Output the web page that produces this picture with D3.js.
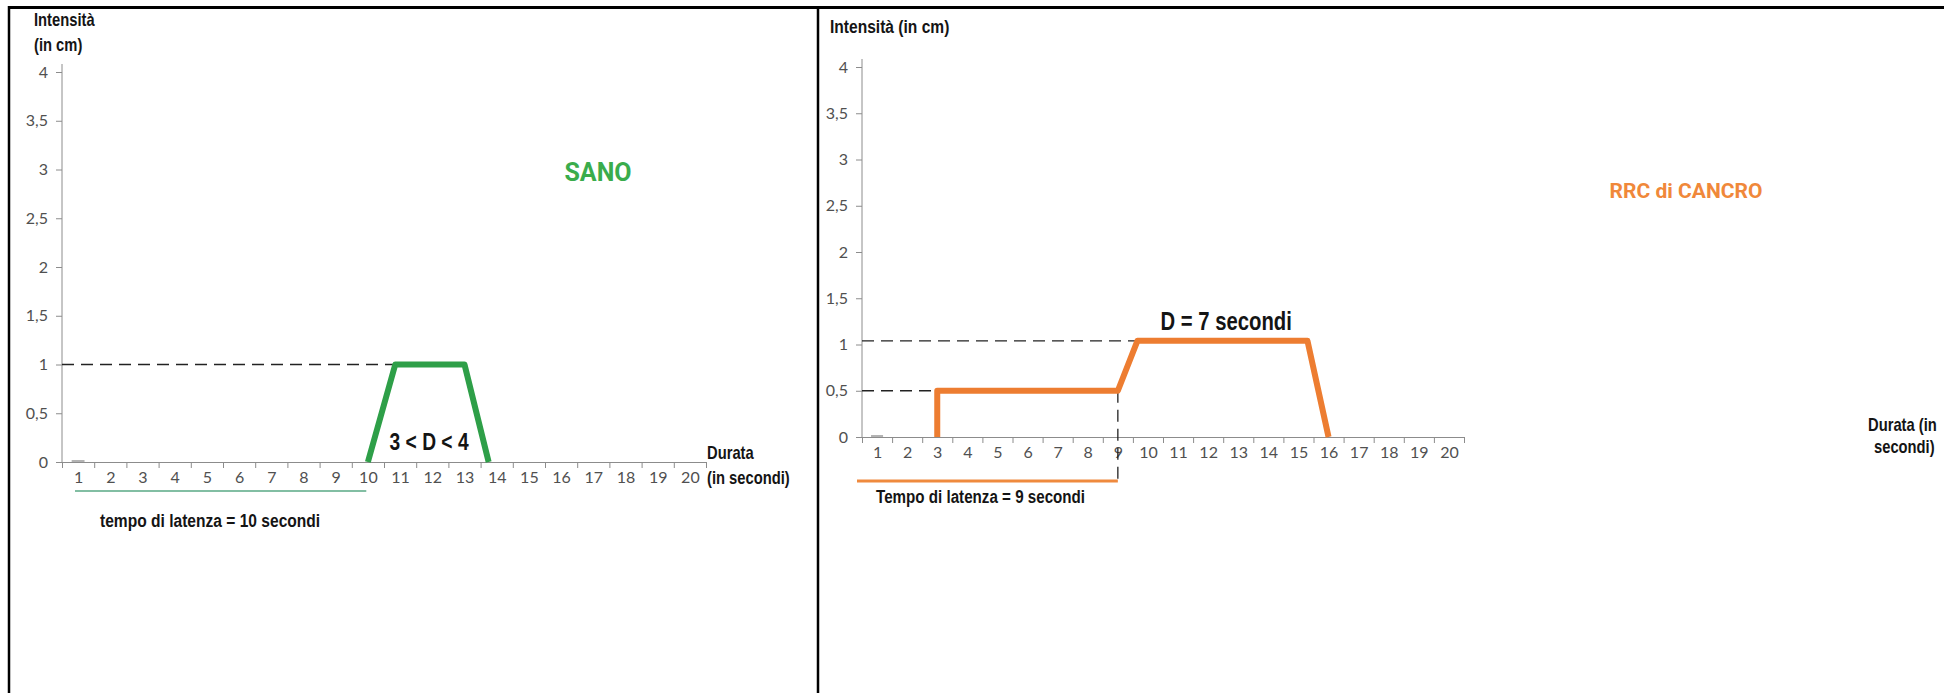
<!DOCTYPE html>
<html>
<head>
<meta charset="utf-8">
<script src="https://cdn.jsdelivr.net/npm/d3@7"></script>
<style>
  body { margin: 0; background: #fff; }
  .tick text { font-family: Lato, "Open Sans", sans-serif; font-size: 16px; fill: #505050; }
  .axis path, .axis line { stroke: #8c8c8c; }
  .lbl { font-family: "Liberation Sans", Arial, sans-serif; font-weight: bold; fill: #141414; }
</style>
</head>
<body>
<script>
'use strict';

// data
var xTicks = [1, 2, 3, 4, 5, 6, 7, 8, 9, 10, 11, 12, 13, 14, 15, 16, 17, 18, 19, 20];
var yTicks = [0, 0.5, 1, 1.5, 2, 2.5, 3, 3.5, 4];

// SANO: latency 10 s, 3 < D < 4
var sanoX = [10, 10.85, 13, 13.75];
var sanoY = [0, 1, 1, 0];

// RRC di CANCRO: latency 9 s, D = 7 s
var cancroX = [3, 3, 9, 9.65, 15.3, 16];
var cancroY = [0, 0.5, 0.5, 1.04, 1.04, 0];

var W = 1944, H = 693;

var svg = d3.select("body").append("svg")
  .attr("width", W)
  .attr("height", H);

// frame
svg.append("line").attr("x1", 8).attr("x2", W).attr("y1", 7.5).attr("y2", 7.5)
  .attr("stroke", "#000").attr("stroke-width", 3);
svg.append("line").attr("x1", 9).attr("x2", 9).attr("y1", 6).attr("y2", H)
  .attr("stroke", "#000").attr("stroke-width", 2.5);
svg.append("line").attr("x1", 818).attr("x2", 818).attr("y1", 6).attr("y2", H)
  .attr("stroke", "#000").attr("stroke-width", 2.5);

var fmt = function (d) { return String(d).replace(".", ","); };

// bold label, squeezed horizontally like the original picture
function label(g, txt, x, y, size, sx, anchor) {
  return g.append("text").attr("class", "lbl")
    .attr("transform", "translate(" + x + "," + y + ") scale(" + sx + ",1)")
    .attr("text-anchor", anchor || "start")
    .style("font-size", size + "px")
    .text(txt);
}

function panel(o) {
  var x = d3.scaleLinear().domain([0.5, 20.5]).range([o.x0, o.x0 + 20 * o.unitX]);
  var y = d3.scaleLinear().domain([0, 4]).range([o.y0, o.y0 - 4 * o.unitY]);
  var g = svg.append("g");

  // y axis
  var ya = g.append("g").attr("class", "axis")
    .attr("transform", "translate(" + o.x0 + ",0)")
    .call(d3.axisLeft(y).tickValues(yTicks).tickFormat(fmt).tickSize(6).tickPadding(8));
  ya.select(".domain").remove();
  g.append("line").attr("class", "axis")
    .attr("x1", o.x0).attr("x2", o.x0)
    .attr("y1", y(4) - 8).attr("y2", y(0))
    .attr("stroke", "#8c8c8c");

  // x axis: tick marks at category edges, labels at centres
  var edges = xTicks.map(function (d) { return d - 0.5; }).concat([20.5]);
  g.append("g").attr("class", "axis")
    .attr("transform", "translate(0," + o.y0 + ")")
    .call(d3.axisBottom(x).tickValues(edges).tickFormat("").tickSize(6).tickSizeOuter(0));
  g.append("g").attr("class", "axis")
    .attr("transform", "translate(0," + o.y0 + ")")
    .call(d3.axisBottom(x).tickValues(xTicks).tickSize(0).tickPadding(10))
    .select(".domain").remove();

  // tiny stub at (1,0) left by the spreadsheet
  g.append("line")
    .attr("x1", x(0.8)).attr("x2", x(1.2))
    .attr("y1", y(0) - 1).attr("y2", y(0) - 1)
    .attr("stroke", "#9a9a9a").attr("stroke-width", 1.5);

  // dashed guides
  o.guides.forEach(function (gd) {
    g.append("line")
      .attr("x1", x(gd[0])).attr("y1", y(gd[1]))
      .attr("x2", x(gd[2])).attr("y2", gd[3] === null ? o.under : y(gd[3]))
      .attr("stroke", "#222").attr("stroke-width", 1.3)
      .attr("stroke-dasharray", "12,7");
  });

  // series
  var line = d3.line()
    .x(function (d) { return x(d[0]); })
    .y(function (d) { return y(d[1]); });
  g.append("path")
    .datum(d3.zip(o.sx, o.sy))
    .attr("d", line)
    .attr("fill", "none")
    .attr("stroke", o.color)
    .attr("stroke-width", 6)
    .attr("stroke-linejoin", "round");

  return { x: x, y: y, g: g };
}

// left: SANO
var L = panel({
  x0: 62, unitX: 32.2, y0: 462, unitY: 97.5,
  sx: sanoX, sy: sanoY, color: "#2e9f48",
  guides: [[0.5, 1, 10.85, 1]]
});
L.g.append("line")
  .attr("x1", 75).attr("x2", L.x(9.95))
  .attr("y1", 491).attr("y2", 491)
  .attr("stroke", "#58a985").attr("stroke-width", 1.6);
label(L.g, "Intensità", 34, 26, 18, 0.82);
label(L.g, "(in cm)", 34, 51, 18, 0.82);
label(L.g, "Durata", 707, 459, 18, 0.82);
label(L.g, "(in secondi)", 707, 484, 18, 0.82);
label(L.g, "tempo di latenza = 10 secondi", 100, 527, 19, 0.82);
label(L.g, "3 < D < 4", L.x(11.9), 450, 24, 0.8, "middle");
L.g.append("text").attr("x", 598).attr("y", 181).attr("text-anchor", "middle")
  .style("font-family", "Roboto, sans-serif").style("font-weight", "bold")
  .style("font-size", "25px").attr("fill", "#3aac4c").text("SANO");

// right: RRC di CANCRO
var R = panel({
  x0: 862, unitX: 30.1, y0: 437, unitY: 92.5,
  sx: cancroX, sy: cancroY, color: "#ed7d31",
  under: 481,
  guides: [[0.5, 1.04, 9.65, 1.04], [0.5, 0.5, 3, 0.5], [9, 0.5, 9, null]]
});
R.g.append("line")
  .attr("x1", 857).attr("x2", R.x(9))
  .attr("y1", 481).attr("y2", 481)
  .attr("stroke", "#ef8a3e").attr("stroke-width", 3);
label(R.g, "Intensità (in cm)", 830, 33, 19, 0.82);
label(R.g, "Durata (in", 1868, 431, 18, 0.82);
label(R.g, "secondi)", 1874, 453, 18, 0.82);
label(R.g, "Tempo di latenza = 9 secondi", 876, 503, 18.5, 0.82);
label(R.g, "D = 7 secondi", R.x(12.6), 330, 26, 0.78, "middle");
R.g.append("text").attr("x", 1686).attr("y", 198).attr("text-anchor", "middle")
  .style("font-family", "Roboto, sans-serif").style("font-weight", "bold")
  .style("font-size", "21px").attr("fill", "#f0883a").text("RRC di CANCRO");
</script>
</body>
</html>
